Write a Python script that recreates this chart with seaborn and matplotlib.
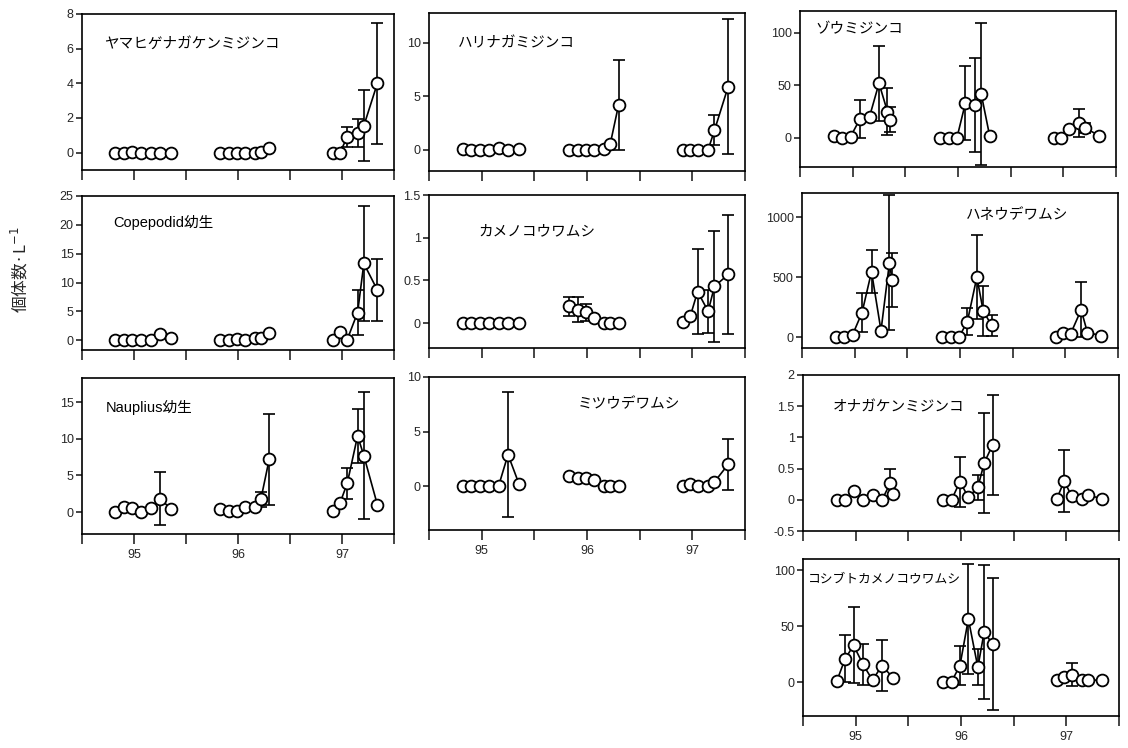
import numpy as np
import pandas as pd
import matplotlib
matplotlib.use("Agg")
import matplotlib.pyplot as plt
import seaborn as sns

NA = np.nan

# sampling dates (decimal years) of the three yearly groups
X95 = [94.82, 94.90, 94.98, 95.07, 95.16, 95.25, 95.33, 95.355]
X96 = [95.83, 95.91, 95.99, 96.07, 96.16, 96.22, 96.30]
X97 = [96.91, 96.98, 97.05, 97.15, 97.21, 97.34]
YEAR_TICKS = [94.5, 95, 95.5, 96, 96.5, 97, 97.5]
YEAR_LABELS = ["", "95", "", "96", "", "97", ""]

# mean and SD per panel (95 group: 8 slots, 96: 7 slots, 97: 6 slots)
YAMA_Y = [0, 0, 0.05, 0, 0, 0, NA, 0,   0, 0, 0, 0, 0, 0.05, 0.25,   0, 0, 0.9, 1.15, 1.55, 4.0]
YAMA_SD = [0, 0, 0, 0, 0, 0, 0, 0,      0, 0, 0, 0, 0, 0, 0,         0, 0, 0.6, 0.8, 2.05, 3.5]

HARI_Y = [0.1, 0, 0, 0, 0.2, 0, NA, 0.1,  0, 0, 0, 0, 0.1, 0.5, 4.2,  0, 0, 0, 0, 1.8, 5.9]
HARI_SD = [0, 0, 0, 0, 0, 0, 0, 0,        0, 0, 0, 0, 0, 0, 4.2,      0, 0, 0, 0, 1.4, 6.3]

ZOU_Y = [2, 0, 1, 18, 20, 52, 25, 17,   0, 0, 0, 33, 31, 42, 2,   0, 0, 8, 14, 9, 2]
ZOU_SD = [0, 0, 0, 18, 0, 36, 22, 12,   0, 0, 0, 35, 45, 68, 0,   0, 0, 0, 13, 5, 0]

COPE_Y = [0, 0, 0, 0, 0, 1.0, NA, 0.3,   0, 0, 0.2, 0, 0.3, 0.4, 1.2,   0.1, 1.4, 0.1, 4.8, 13.3, 8.7]
COPE_SD = [0, 0, 0, 0, 0, 0, 0, 0,       0, 0, 0, 0, 0, 0, 0,           0, 0, 0, 3.9, 10.0, 5.3]

KAME_Y = [0, 0, 0, 0, 0, 0, NA, 0,   0.2, 0.16, 0.13, 0.06, 0, 0, 0,   0.02, 0.08, 0.37, 0.14, 0.43, 0.57]
KAME_SD = [0, 0, 0, 0, 0, 0, 0, 0,   0.11, 0.15, 0.1, 0, 0, 0, 0,      0, 0, 0.5, 0.25, 0.65, 0.7]

HANE_Y = [0, 0, 20, 205, 545, 55, 620, 475,   0, 0, 0, 130, 500, 220, 98,   0, 33, 28, 228, 38, 14]
HANE_SD = [0, 0, 0, 160, 180, 0, 560, 225,    0, 0, 0, 112, 350, 210, 90,   0, 0, 0, 230, 0, 0]

NAUP_Y = [0, 0.75, 0.5, 0, 0.55, 1.8, NA, 0.45,   0.45, 0.2, 0.2, 0.75, 0.75, 1.75, 7.2,   0.2, 1.2, 3.9, 10.4, 7.7, 1.0]
NAUP_SD = [0, 0, 0, 0, 0, 3.6, 0, 0,              0, 0, 0, 0, 0, 1.05, 6.2,               0, 0, 2.1, 3.7, 8.7, 0]

MITSU_Y = [0, 0, 0, 0, 0, 2.9, NA, 0.2,   0.9, 0.75, 0.8, 0.6, 0, 0, 0,   0.05, 0.2, 0, 0, 0.4, 2.0]
MITSU_SD = [0, 0, 0, 0, 0, 5.7, 0, 0,     0, 0, 0, 0, 0, 0, 0,            0, 0, 0, 0, 0, 2.3]

ONAGA_Y = [0, 0, 0.14, 0, 0.08, 0, 0.27, 0.1,   0, 0, 0.29, 0.04, 0.2, 0.59, 0.88,   0.02, 0.3, 0.06, 0.01, 0.07, 0.02]
ONAGA_SD = [0, 0, 0, 0, 0, 0, 0.22, 0,          0, 0, 0.4, 0, 0.2, 0.8, 0.8,         0, 0.5, 0, 0, 0, 0]

KOSHI_Y = [1, 21, 33, 16, 2, 15, NA, 4,   0.6, 0.6, 15, 56.5, 13.4, 45, 34,   2, 5, 7, 2, 2, 2]
KOSHI_SD = [0, 21, 34, 18, 0, 23, 0, 0,   0, 0, 17, 49, 16, 60, 59,           0, 0, 10, 0, 0, 0]

TITLES = ["ヤマヒゲナガケンミジンコ", "ハリナガミジンコ", "ゾウミジンコ",
          "Copepodid幼生", "カメノコウワムシ", "ハネウデワムシ",
          "Nauplius幼生", "ミツウデワムシ", "オナガケンミジンコ",
          "コシブトカメノコウワムシ"]
YLABEL = "個体数·L$^{-1}$"

sns.set_style("ticks")
plt.rcParams["font.family"] = ["Liberation Sans", "Noto Sans CJK JP"]
plt.rcParams["axes.linewidth"] = 1.2

W, H = 1128, 748
fig = plt.figure(figsize=(W / 100, H / 100), dpi=100)


def rect(l, r, t, b):
    return [l / W, 1 - b / H, (r - l) / W, (b - t) / H]


panels = [
    # (title, Y, SD, rect px, ylim, yticks, title pos, title size, show x labels)
    (TITLES[0], YAMA_Y, YAMA_SD, (82, 394, 14, 170), (-1, 8), [0, 2, 4, 6, 8], (0.07, 0.81), 10.5, False),
    (TITLES[1], HARI_Y, HARI_SD, (429, 745, 13, 171), (-2, 12.8), [0, 5, 10], (0.09, 0.81), 10.5, False),
    (TITLES[2], ZOU_Y, ZOU_SD, (800, 1116, 11, 167), (-28, 121), [0, 50, 100], (0.05, 0.88), 10.5, False),
    (TITLES[3], COPE_Y, COPE_SD, (82, 394, 196, 350), (-1.7, 25), [0, 5, 10, 15, 20, 25], (0.10, 0.83), 10.5, False),
    (TITLES[4], KAME_Y, KAME_SD, (429, 745, 195, 348), (-0.29, 1.5), [0, 0.5, 1, 1.5], (0.155, 0.76), 10.5, False),
    (TITLES[5], HANE_Y, HANE_SD, (802, 1118, 193, 348), (-90, 1200), [0, 500, 1000], (0.52, 0.86), 10.5, False),
    (TITLES[6], NAUP_Y, NAUP_SD, (82, 394, 378, 534), (-3, 18.3), [0, 5, 10, 15], (0.077, 0.81), 10.5, True),
    (TITLES[7], MITSU_Y, MITSU_SD, (429, 745, 377, 530), (-4, 10), [0, 5, 10], (0.47, 0.82), 10.5, True),
    (TITLES[8], ONAGA_Y, ONAGA_SD, (803, 1119, 375, 531), (-0.5, 2), [-0.5, 0, 0.5, 1, 1.5, 2], (0.095, 0.79), 10.5, False),
    (TITLES[9], KOSHI_Y, KOSHI_SD, (803, 1119, 559, 716), (-30, 110), [0, 50, 100], (0.016, 0.87), 9.2, True),
]

xs = np.array(X95 + X96 + X97)
yrs = np.array([95] * len(X95) + [96] * len(X96) + [97] * len(X97))

for title, Y, SD, r, ylim, yticks, tpos, tsize, showx in panels:
    ax = fig.add_axes(rect(*r))
    y = np.array(Y, dtype=float)
    sd = np.array(SD, dtype=float)
    m = ~np.isnan(y)
    df = pd.DataFrame({"x": xs[m], "y": y[m], "yr": yrs[m]})
    em = m & (sd > 0)
    ax.errorbar(xs[em], y[em], yerr=sd[em], fmt="none", ecolor="black",
                elinewidth=1.2, capsize=4.5, capthick=1.2, zorder=2)
    sns.lineplot(data=df, x="x", y="y", units="yr", estimator=None, sort=True,
                 color="black", linewidth=1.2, marker="o", markersize=8.5,
                 markerfacecolor="white", markeredgecolor="black",
                 markeredgewidth=1.3, legend=False, ax=ax, zorder=3)
    ax.set_xlim(94.5, 97.5)
    ax.set_ylim(*ylim)
    ax.set_yticks(yticks)
    ax.set_yticklabels(["%g" % v for v in yticks])
    ax.set_xticks(YEAR_TICKS)
    ax.set_xticklabels(YEAR_LABELS if showx else [""] * len(YEAR_TICKS))
    ax.tick_params(axis="y", direction="out", length=4, width=1.2, labelsize=9, pad=2)
    ax.tick_params(axis="x", direction="out", length=7, width=1.2, labelsize=9, pad=4)
    ax.set_xlabel("")
    ax.set_ylabel("")
    for s in ax.spines.values():
        s.set_color("black")
        s.set_linewidth(1.2)
    ax.text(tpos[0], tpos[1], title, transform=ax.transAxes, fontsize=tsize,
            ha="left", va="center", color="black")

fig.text(20 / W, 1 - 270 / H, YLABEL, rotation=90, ha="center", va="center",
         fontsize=12, family="Noto Sans CJK JP")

fig.savefig("out.png", dpi=100, facecolor="white")
